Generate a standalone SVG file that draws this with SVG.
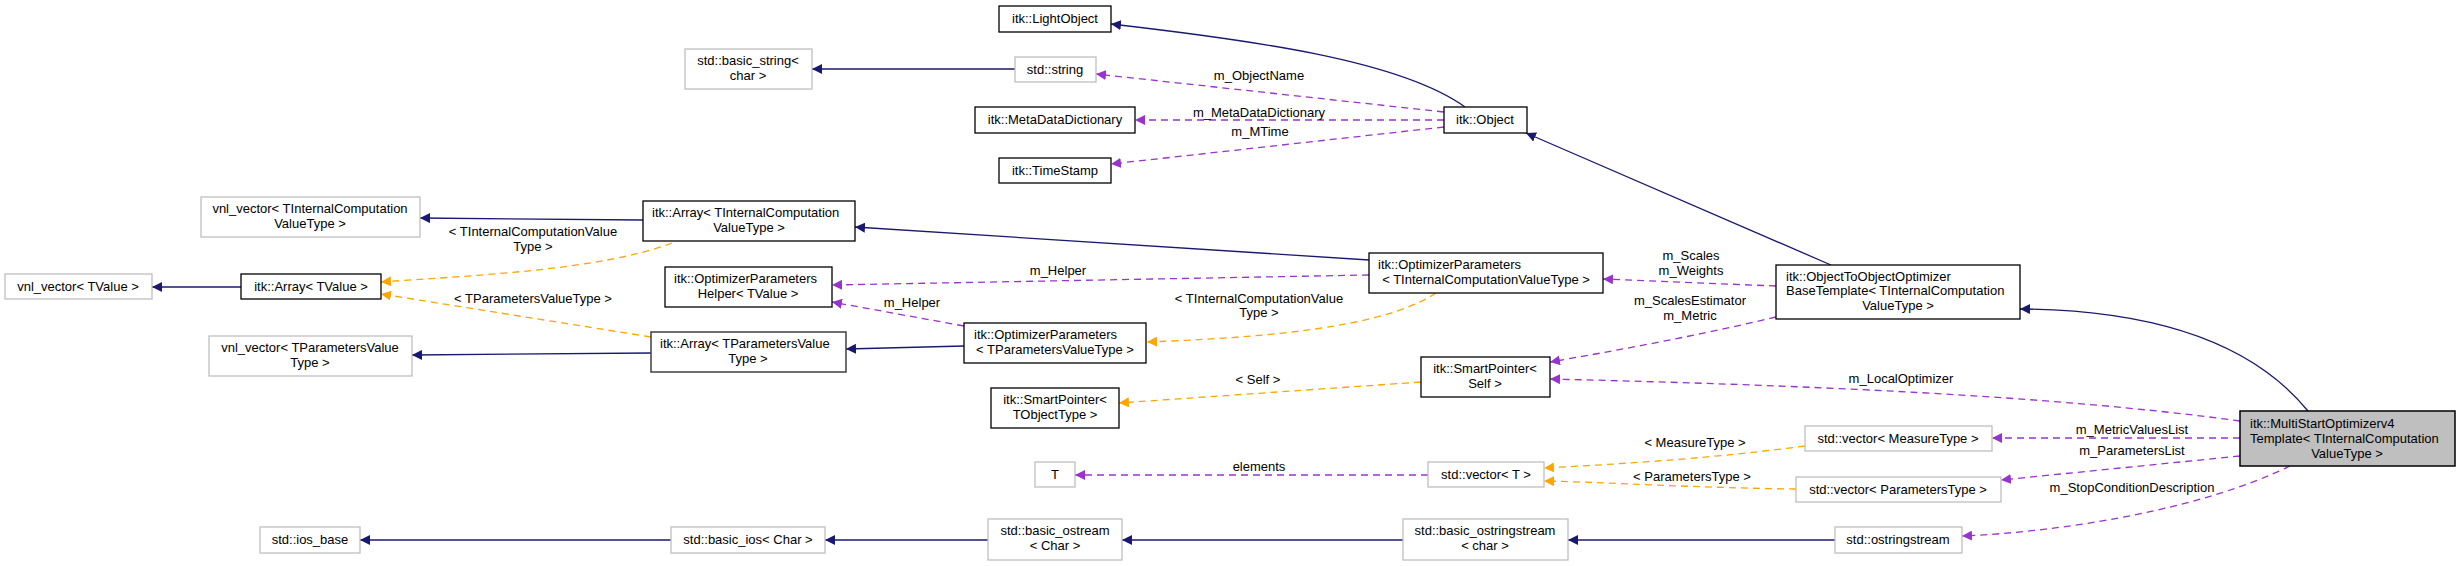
<svg xmlns="http://www.w3.org/2000/svg" width="2456" height="566" viewBox="0 0 2456 566">
<defs>
<style>
text{font-family:"Liberation Sans",Arial,sans-serif;font-size:13px;fill:#000}
.c{text-anchor:middle}
.l{text-anchor:start}
.b{fill:#fff;stroke:#000;stroke-width:1.3}
.g{fill:#fff;stroke:#bfbfbf;stroke-width:1.3}
.d{fill:#fff;stroke:#404040;stroke-width:1.5}
.m{fill:#bfbfbf;stroke:#000;stroke-width:1.5}
.inh{fill:none;stroke:#191970;stroke-width:1.3;marker-end:url(#an)}
.tpl{fill:none;stroke:#ffa500;stroke-width:1.3;stroke-dasharray:7,5;marker-end:url(#ao)}
.use{fill:none;stroke:#9a32cd;stroke-width:1.3;stroke-dasharray:7,5;marker-end:url(#ap)}
</style>
<marker id="an" viewBox="0 0 10 10" refX="10" refY="5" markerWidth="10" markerHeight="10" markerUnits="userSpaceOnUse" orient="auto"><path d="M0,0L10,5L0,10z" fill="#191970"/></marker>
<marker id="ao" viewBox="0 0 10 10" refX="10" refY="5" markerWidth="10" markerHeight="10" markerUnits="userSpaceOnUse" orient="auto"><path d="M0,0L10,5L0,10z" fill="#ffa500"/></marker>
<marker id="ap" viewBox="0 0 10 10" refX="10" refY="5" markerWidth="10" markerHeight="10" markerUnits="userSpaceOnUse" orient="auto"><path d="M0,0L10,5L0,10z" fill="#9a32cd"/></marker>
</defs>
<rect width="2456" height="566" fill="#fff"/>
<g id="connectors">
<path class="inh" d="M1465,107 C1400,60 1250,40 1111,24"/>
<path class="inh" d="M1015,69 L812,69"/>
<path class="inh" d="M1831,265 L1526,133"/>
<path class="inh" d="M2308,411 C2250,340 2150,310 2020,309"/>
<path class="inh" d="M1369,260 L855,227"/>
<path class="inh" d="M643,220 L420,218"/>
<path class="inh" d="M241,287 L152,287"/>
<path class="inh" d="M651,353 L412,355"/>
<path class="inh" d="M964,346 L846,349"/>
<path class="inh" d="M1403,540 L1122,540"/>
<path class="inh" d="M988,540 L825,540"/>
<path class="inh" d="M671,540 L360,540"/>
<path class="inh" d="M1835,540 L1568,540"/>
<path class="tpl" d="M672,243 C600,270 480,275 381,282"/>
<path class="tpl" d="M651,337 L381,294"/>
<path class="tpl" d="M1436,293 C1380,330 1250,338 1147,342"/>
<path class="tpl" d="M1421,382 L1119,403"/>
<path class="tpl" d="M1805,446 C1700,460 1600,465 1544,468"/>
<path class="tpl" d="M1796,489 C1700,488 1600,482 1544,481"/>
<path class="use" d="M1444,112 L1096,74"/>
<path class="use" d="M1444,120 L1135,120"/>
<path class="use" d="M1444,127 L1111,164"/>
<path class="use" d="M1369,275 L832,285"/>
<path class="use" d="M964,326 L832,302"/>
<path class="use" d="M1776,286 L1603,279"/>
<path class="use" d="M1776,317 C1700,335 1620,350 1550,362"/>
<path class="use" d="M2240,421 C2050,395 1800,385 1550,379"/>
<path class="use" d="M2240,438 L1992,438"/>
<path class="use" d="M2240,456 L2001,480"/>
<path class="use" d="M2290,466 C2200,510 2060,532 1962,536"/>
<path class="use" d="M1428,475 L1075,475"/>
<text class="c" x="1259" y="80">m_ObjectName</text>
<text class="c" x="1259" y="117">m_MetaDataDictionary</text>
<text class="c" x="1260" y="136">m_MTime</text>
<text class="c" x="1058" y="275">m_Helper</text>
<text class="c" x="912" y="307">m_Helper</text>
<text class="c" x="533" y="236">&lt; TInternalComputationValue</text>
<text class="c" x="533" y="251">Type &gt;</text>
<text class="c" x="533" y="303">&lt; TParametersValueType &gt;</text>
<text class="c" x="1259" y="303">&lt; TInternalComputationValue</text>
<text class="c" x="1259" y="317">Type &gt;</text>
<text class="c" x="1258" y="384">&lt; Self &gt;</text>
<text class="c" x="1259" y="471">elements</text>
<text class="c" x="1691" y="260">m_Scales</text>
<text class="c" x="1691" y="275">m_Weights</text>
<text class="c" x="1690" y="305">m_ScalesEstimator</text>
<text class="c" x="1690" y="320">m_Metric</text>
<text class="c" x="1901" y="383">m_LocalOptimizer</text>
<text class="c" x="2132" y="434">m_MetricValuesList</text>
<text class="c" x="2132" y="455">m_ParametersList</text>
<text class="c" x="2132" y="492">m_StopConditionDescription</text>
<text class="c" x="1695" y="447">&lt; MeasureType &gt;</text>
<text class="c" x="1692" y="481">&lt; ParametersType &gt;</text>
</g>
<g id="n_lightobject"><rect class="b" x="999" y="6" width="112" height="26"/><text class="c" x="1055" y="23">itk::LightObject</text></g>
<g id="n_basic_string"><rect class="g" x="685" y="49" width="127" height="40"/><text class="c" x="748" y="65">std::basic_string&lt;</text><text class="c" x="748" y="80">char &gt;</text></g>
<g id="n_string"><rect class="g" x="1015" y="57" width="81" height="25"/><text class="c" x="1055" y="74">std::string</text></g>
<g id="n_metadata"><rect class="b" x="975" y="107" width="160" height="26"/><text class="c" x="1055" y="124">itk::MetaDataDictionary</text></g>
<g id="n_timestamp"><rect class="b" x="999" y="158" width="112" height="25"/><text class="c" x="1055" y="175">itk::TimeStamp</text></g>
<g id="n_object"><rect class="b" x="1444" y="107" width="83" height="26"/><text class="c" x="1485" y="124">itk::Object</text></g>
<g id="n_vnl_tic"><rect class="g" x="201" y="197" width="219" height="40"/><text class="c" x="310" y="213">vnl_vector&lt; TInternalComputation</text><text class="c" x="310" y="228">ValueType &gt;</text></g>
<g id="n_array_tic"><rect class="b" x="643" y="201" width="212" height="40"/><text class="l" x="652" y="217">itk::Array&lt; TInternalComputation</text><text class="c" x="749" y="232">ValueType &gt;</text></g>
<g id="n_vnl_tv"><rect class="g" x="5" y="274" width="147" height="25"/><text class="c" x="78" y="291">vnl_vector&lt; TValue &gt;</text></g>
<g id="n_array_tv"><rect class="b" x="241" y="274" width="140" height="25"/><text class="c" x="311" y="291">itk::Array&lt; TValue &gt;</text></g>
<g id="n_helper"><rect class="b" x="665" y="267" width="167" height="40"/><text class="l" x="674" y="283">itk::OptimizerParameters</text><text class="c" x="748" y="298">Helper&lt; TValue &gt;</text></g>
<g id="n_optparams_tic"><rect class="b" x="1369" y="253" width="234" height="40"/><text class="l" x="1378" y="269">itk::OptimizerParameters</text><text class="c" x="1486" y="284">&lt; TInternalComputationValueType &gt;</text></g>
<g id="n_vnl_tp"><rect class="g" x="209" y="336" width="203" height="40"/><text class="c" x="310" y="352">vnl_vector&lt; TParametersValue</text><text class="c" x="310" y="367">Type &gt;</text></g>
<g id="n_array_tp"><rect class="d" x="651" y="332" width="195" height="40"/><text class="l" x="660" y="348">itk::Array&lt; TParametersValue</text><text class="c" x="748" y="363">Type &gt;</text></g>
<g id="n_optparams_tp"><rect class="b" x="964" y="323" width="182" height="40"/><text class="l" x="974" y="339">itk::OptimizerParameters</text><text class="c" x="1055" y="354">&lt; TParametersValueType &gt;</text></g>
<g id="n_sp_self"><rect class="b" x="1421" y="357" width="129" height="40"/><text class="c" x="1485" y="373">itk::SmartPointer&lt;</text><text class="c" x="1485" y="388">Self &gt;</text></g>
<g id="n_sp_tobj"><rect class="b" x="991" y="388" width="128" height="40"/><text class="c" x="1055" y="404">itk::SmartPointer&lt;</text><text class="c" x="1055" y="419">TObjectType &gt;</text></g>
<g id="n_t"><rect class="g" x="1035" y="462" width="40" height="25"/><text class="c" x="1055" y="479">T</text></g>
<g id="n_vector_t"><rect class="g" x="1428" y="462" width="116" height="25"/><text class="c" x="1486" y="479">std::vector&lt; T &gt;</text></g>
<g id="n_ostt"><rect class="b" x="1776" y="265" width="244" height="54"/><text class="l" x="1786" y="281">itk::ObjectToObjectOptimizer</text><text class="l" x="1786" y="295">BaseTemplate&lt; TInternalComputation</text><text class="c" x="1898" y="310">ValueType &gt;</text></g>
<g id="n_multistart"><rect class="m" x="2240" y="411" width="215" height="55"/><text class="l" x="2250" y="428">itk::MultiStartOptimizerv4</text><text class="l" x="2250" y="443">Template&lt; TInternalComputation</text><text class="c" x="2347" y="458">ValueType &gt;</text></g>
<g id="n_vec_measure"><rect class="g" x="1805" y="426" width="187" height="25"/><text class="c" x="1898" y="443">std::vector&lt; MeasureType &gt;</text></g>
<g id="n_vec_params"><rect class="g" x="1796" y="477" width="205" height="25"/><text class="c" x="1898" y="494">std::vector&lt; ParametersType &gt;</text></g>
<g id="n_ios_base"><rect class="g" x="260" y="527" width="100" height="26"/><text class="c" x="310" y="544">std::ios_base</text></g>
<g id="n_basic_ios"><rect class="g" x="671" y="527" width="154" height="26"/><text class="c" x="748" y="544">std::basic_ios&lt; Char &gt;</text></g>
<g id="n_basic_ostream"><rect class="g" x="988" y="519" width="134" height="41"/><text class="c" x="1055" y="535">std::basic_ostream</text><text class="c" x="1055" y="550">&lt; Char &gt;</text></g>
<g id="n_basic_ostringstream"><rect class="g" x="1403" y="519" width="165" height="41"/><text class="c" x="1485" y="535">std::basic_ostringstream</text><text class="c" x="1485" y="550">&lt; char &gt;</text></g>
<g id="n_ostringstream"><rect class="g" x="1835" y="527" width="127" height="26"/><text class="c" x="1898" y="544">std::ostringstream</text></g>
</svg>
